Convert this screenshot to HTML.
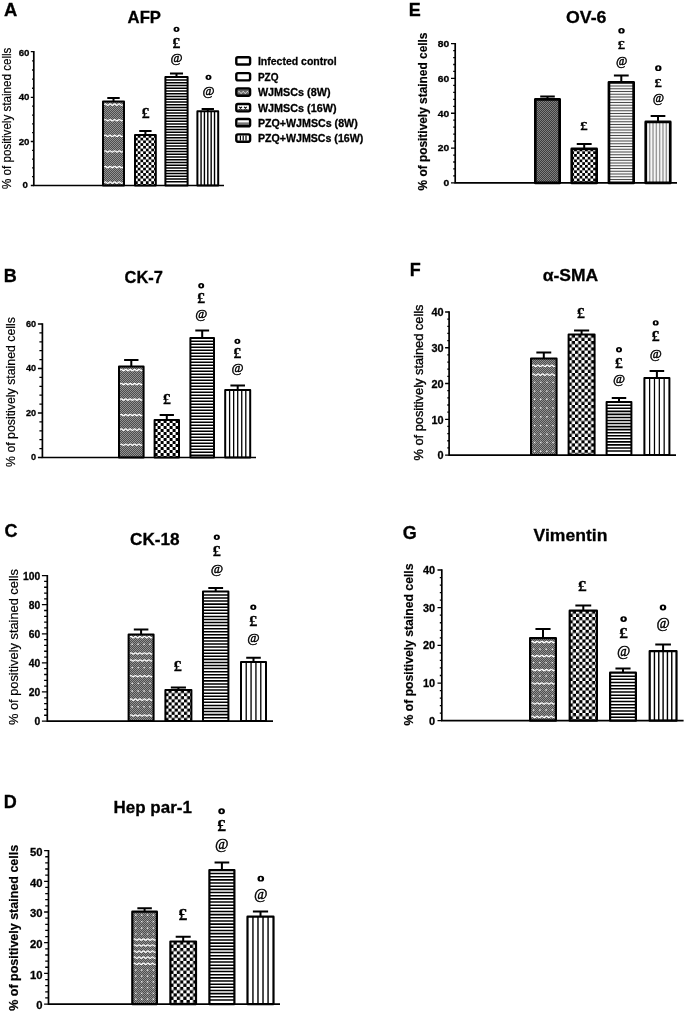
<!DOCTYPE html>
<html><head><meta charset="utf-8"><title>figure</title>
<style>
html,body{margin:0;padding:0;background:#fff;}
body{width:685px;height:1011px;overflow:hidden;font-family:"Liberation Sans", sans-serif;}
svg{display:block;}
text{font-family:"Liberation Sans", sans-serif;fill:#000;stroke:#000;stroke-width:0.3px;}
.b{font-weight:bold;}
.s{font-family:"Liberation Serif",serif;font-weight:bold;}
.i{font-family:"Liberation Serif",serif;font-style:italic;}
</style></head><body>
<svg width="685" height="1011" viewBox="0 0 685 1011">
<defs>
<filter id="soft" x="0" y="0" width="100%" height="100%" filterUnits="userSpaceOnUse"><feGaussianBlur stdDeviation="0.38"/></filter>
<pattern id="Ap2" patternUnits="userSpaceOnUse" x="135" y="135" width="5.44" height="5.44"><rect width="5.44" height="5.44" fill="#000"/><rect width="2.72" height="2.72" fill="#fff"/><rect x="2.72" y="2.72" width="2.72" height="2.72" fill="#fff"/></pattern><pattern id="Ap3" patternUnits="userSpaceOnUse" x="165.4" y="77" width="8" height="2.75"><rect width="8" height="2.75" fill="#fff"/><rect width="8" height="1.43" fill="#000"/></pattern><pattern id="Ap4" patternUnits="userSpaceOnUse" x="197.4" y="111.3" width="3.3" height="8"><rect width="3.3" height="8" fill="#fff"/><rect x="1.9" width="1.4" height="8" fill="#000"/></pattern><pattern id="Ap1" patternUnits="userSpaceOnUse" width="2" height="2"><rect width="2" height="2" fill="#4e4e4e"/><rect width="1" height="1" fill="#929292"/><rect x="1" y="1" width="1" height="1" fill="#929292"/></pattern>
<pattern id="Bp2" patternUnits="userSpaceOnUse" x="154.6" y="420" width="6" height="6"><rect width="6" height="6" fill="#000"/><rect width="3" height="3" fill="#fff"/><rect x="3" y="3" width="3" height="3" fill="#fff"/></pattern><pattern id="Bp3" patternUnits="userSpaceOnUse" x="190.4" y="338" width="8" height="3"><rect width="8" height="3" fill="#fff"/><rect width="8" height="1.5" fill="#000"/></pattern><pattern id="Bp4" patternUnits="userSpaceOnUse" x="225.2" y="390" width="4" height="8"><rect width="4" height="8" fill="#fff"/><rect x="2.7" width="1.3" height="8" fill="#000"/></pattern><pattern id="Bp1" patternUnits="userSpaceOnUse" width="2" height="2"><rect width="2" height="2" fill="#4e4e4e"/><rect width="1" height="1" fill="#929292"/><rect x="1" y="1" width="1" height="1" fill="#929292"/></pattern>
<pattern id="Cp2" patternUnits="userSpaceOnUse" x="165.4" y="690" width="6.2" height="6.2"><rect width="6.2" height="6.2" fill="#000"/><rect width="3.1" height="3.1" fill="#fff"/><rect x="3.1" y="3.1" width="3.1" height="3.1" fill="#fff"/></pattern><pattern id="Cp3" patternUnits="userSpaceOnUse" x="203" y="591.6" width="8" height="3.07"><rect width="8" height="3.07" fill="#fff"/><rect width="8" height="1.53" fill="#000"/></pattern><pattern id="Cp4" patternUnits="userSpaceOnUse" x="241" y="662" width="4.26" height="8"><rect width="4.26" height="8" fill="#fff"/><rect x="2.96" width="1.3" height="8" fill="#000"/></pattern><pattern id="Cp1" patternUnits="userSpaceOnUse" width="2" height="2"><rect width="2" height="2" fill="#4e4e4e"/><rect width="1" height="1" fill="#929292"/><rect x="1" y="1" width="1" height="1" fill="#929292"/></pattern>
<pattern id="Dp2" patternUnits="userSpaceOnUse" x="170.3" y="941.4" width="6.5" height="6.5"><rect width="6.5" height="6.5" fill="#000"/><rect width="3.25" height="3.25" fill="#fff"/><rect x="3.25" y="3.25" width="3.25" height="3.25" fill="#fff"/></pattern><pattern id="Dp3" patternUnits="userSpaceOnUse" x="209.3" y="870" width="8" height="3.16"><rect width="8" height="3.16" fill="#fff"/><rect width="8" height="1.58" fill="#000"/></pattern><pattern id="Dp4" patternUnits="userSpaceOnUse" x="247.4" y="916.6" width="4.4" height="8"><rect width="4.4" height="8" fill="#fff"/><rect x="3" width="1.4" height="8" fill="#000"/></pattern><pattern id="Dp1" patternUnits="userSpaceOnUse" width="2" height="2"><rect width="2" height="2" fill="#4e4e4e"/><rect width="1" height="1" fill="#929292"/><rect x="1" y="1" width="1" height="1" fill="#929292"/></pattern>
<pattern id="Ep2" patternUnits="userSpaceOnUse" x="571.4" y="148.6" width="5.44" height="5.44"><rect width="5.44" height="5.44" fill="#000"/><rect width="2.72" height="2.72" fill="#fff"/><rect x="2.72" y="2.72" width="2.72" height="2.72" fill="#fff"/></pattern><pattern id="Ep3" patternUnits="userSpaceOnUse" x="608.6" y="82" width="8" height="2.75"><rect width="8" height="2.75" fill="#f6f6f6"/><rect width="8" height="0.88" fill="#333"/></pattern><pattern id="Ep4" patternUnits="userSpaceOnUse" x="645.4" y="121.6" width="3.3" height="8"><rect width="3.3" height="8" fill="#f6f6f6"/><rect x="1.9" width="1.4" height="8" fill="#999"/></pattern><pattern id="Ep1" patternUnits="userSpaceOnUse" width="2" height="2"><rect width="2" height="2" fill="#3c3c3c"/><rect width="1" height="1" fill="#808080"/><rect x="1" y="1" width="1" height="1" fill="#808080"/></pattern>
<pattern id="Fp2" patternUnits="userSpaceOnUse" x="568.6" y="334.6" width="6.4" height="6.4"><rect width="6.4" height="6.4" fill="#000"/><rect width="3.2" height="3.2" fill="#fff"/><rect x="3.2" y="3.2" width="3.2" height="3.2" fill="#fff"/></pattern><pattern id="Fp3" patternUnits="userSpaceOnUse" x="606.6" y="402" width="8" height="3.05"><rect width="8" height="3.05" fill="#fff"/><rect width="8" height="1.59" fill="#000"/></pattern><pattern id="Fp4" patternUnits="userSpaceOnUse" x="644.4" y="378" width="4.2" height="8"><rect width="4.2" height="8" fill="#fff"/><rect x="3.05" width="1.15" height="8" fill="#000"/></pattern><pattern id="Fp1" patternUnits="userSpaceOnUse" width="2" height="2"><rect width="2" height="2" fill="#4e4e4e"/><rect width="1" height="1" fill="#929292"/><rect x="1" y="1" width="1" height="1" fill="#929292"/></pattern>
<pattern id="Gp2" patternUnits="userSpaceOnUse" x="569.6" y="610.6" width="6.4" height="6.4"><rect width="6.4" height="6.4" fill="#000"/><rect width="3.2" height="3.2" fill="#fff"/><rect x="3.2" y="3.2" width="3.2" height="3.2" fill="#fff"/></pattern><pattern id="Gp3" patternUnits="userSpaceOnUse" x="610" y="672.6" width="8" height="3.16"><rect width="8" height="3.16" fill="#fff"/><rect width="8" height="1.52" fill="#000"/></pattern><pattern id="Gp4" patternUnits="userSpaceOnUse" x="649.6" y="651" width="4.4" height="8"><rect width="4.4" height="8" fill="#fff"/><rect x="3" width="1.4" height="8" fill="#000"/></pattern><pattern id="Gp1" patternUnits="userSpaceOnUse" width="2" height="2"><rect width="2" height="2" fill="#4e4e4e"/><rect width="1" height="1" fill="#929292"/><rect x="1" y="1" width="1" height="1" fill="#929292"/></pattern>
</defs>
<rect width="685" height="1011" fill="#fff"/>
<g filter="url(#soft)">
<g id="panelA">
<text class="b" x="4" y="15.6" font-size="18.4">A</text>
<text class="b" x="144.3" y="23" font-size="16.5" text-anchor="middle" textLength="33.4" lengthAdjust="spacingAndGlyphs">AFP</text>
<text transform="translate(11.3 118.3) rotate(-90)" font-size="12.4" font-weight="normal" text-anchor="middle" textLength="141.4" lengthAdjust="spacingAndGlyphs" style="stroke-width:0.2px">% of positively stained cells</text>
<path d="M113.5 101.4V98M107.29 98H119.71" stroke="#000" stroke-width="2" fill="none"/>
<rect x="103" y="101.4" width="21" height="84.1" fill="url(#Ap1)"/>
<path d="M104.2 104.6q1.16 -1.3 2.32 0q1.16 1.3 2.32 0q1.16 -1.3 2.32 0q1.16 1.3 2.32 0q1.16 -1.3 2.32 0q1.16 1.3 2.32 0q1.16 -1.3 2.32 0q1.16 1.3 2.32 0M104.2 120.2q1.16 -1.3 2.32 0q1.16 1.3 2.32 0q1.16 -1.3 2.32 0q1.16 1.3 2.32 0q1.16 -1.3 2.32 0q1.16 1.3 2.32 0q1.16 -1.3 2.32 0q1.16 1.3 2.32 0M104.2 135.8q1.16 -1.3 2.32 0q1.16 1.3 2.32 0q1.16 -1.3 2.32 0q1.16 1.3 2.32 0q1.16 -1.3 2.32 0q1.16 1.3 2.32 0q1.16 -1.3 2.32 0q1.16 1.3 2.32 0M104.2 151.4q1.16 -1.3 2.32 0q1.16 1.3 2.32 0q1.16 -1.3 2.32 0q1.16 1.3 2.32 0q1.16 -1.3 2.32 0q1.16 1.3 2.32 0q1.16 -1.3 2.32 0q1.16 1.3 2.32 0M104.2 167q1.16 -1.3 2.32 0q1.16 1.3 2.32 0q1.16 -1.3 2.32 0q1.16 1.3 2.32 0q1.16 -1.3 2.32 0q1.16 1.3 2.32 0q1.16 -1.3 2.32 0q1.16 1.3 2.32 0M104.2 182.6q1.16 -1.3 2.32 0q1.16 1.3 2.32 0q1.16 -1.3 2.32 0q1.16 1.3 2.32 0q1.16 -1.3 2.32 0q1.16 1.3 2.32 0q1.16 -1.3 2.32 0q1.16 1.3 2.32 0" stroke="#fff" stroke-width="1.25" fill="none"/>
<rect x="103" y="101.4" width="21" height="84.1" fill="none" stroke="#000" stroke-width="2" stroke-linejoin="round"/>
<path d="M145.4 135V131M139.24 131H151.56" stroke="#000" stroke-width="2" fill="none"/>
<rect x="135" y="135" width="20.8" height="50.5" fill="url(#Ap2)" stroke="#000" stroke-width="2" stroke-linejoin="round"/>
<path d="M176.5 77V73.4M169.97 73.4H183.03" stroke="#000" stroke-width="2" fill="none"/>
<rect x="165.4" y="77" width="22.2" height="108.5" fill="#fff"/>
<path d="M165.4 80.03H187.6M165.4 82.78H187.6M165.4 85.53H187.6M165.4 88.28H187.6M165.4 91.03H187.6M165.4 93.78H187.6M165.4 96.53H187.6M165.4 99.28H187.6M165.4 102.03H187.6M165.4 104.78H187.6M165.4 107.53H187.6M165.4 110.28H187.6M165.4 113.03H187.6M165.4 115.78H187.6M165.4 118.53H187.6M165.4 121.28H187.6M165.4 124.03H187.6M165.4 126.78H187.6M165.4 129.53H187.6M165.4 132.28H187.6M165.4 135.03H187.6M165.4 137.78H187.6M165.4 140.53H187.6M165.4 143.28H187.6M165.4 146.03H187.6M165.4 148.78H187.6M165.4 151.53H187.6M165.4 154.28H187.6M165.4 157.03H187.6M165.4 159.78H187.6M165.4 162.53H187.6M165.4 165.28H187.6M165.4 168.03H187.6M165.4 170.78H187.6M165.4 173.53H187.6M165.4 176.28H187.6M165.4 179.03H187.6M165.4 181.78H187.6" stroke="#000" stroke-width="1.43" fill="none"/>
<rect x="165.4" y="77" width="22.2" height="108.5" fill="none" stroke="#000" stroke-width="2" stroke-linejoin="round"/>
<path d="M207.8 111.3V109M201.64 109H213.96" stroke="#000" stroke-width="2" fill="none"/>
<rect x="197.4" y="111.3" width="20.8" height="74.2" fill="#fff"/>
<path d="M201.07 111.3V185.5M204.43 111.3V185.5M207.8 111.3V185.5M211.17 111.3V185.5M214.53 111.3V185.5" stroke="#000" stroke-width="1.4" fill="none"/>
<rect x="197.4" y="111.3" width="20.8" height="74.2" fill="none" stroke="#000" stroke-width="2" stroke-linejoin="round"/>
<path d="M33.8 51.05V185.5H224" stroke="#000" stroke-width="1.7" fill="none"/>
<text transform="translate(27.9 188.27) scale(1 1)" font-size="9.7" font-weight="bold" text-anchor="end">0</text>
<text transform="translate(29.5 145.47) scale(1 1)" font-size="9.7" font-weight="bold" text-anchor="end">20</text>
<text transform="translate(29.5 100.47) scale(1 1)" font-size="9.7" font-weight="bold" text-anchor="end">40</text>
<text transform="translate(29.5 56.17) scale(1 1)" font-size="9.7" font-weight="bold" text-anchor="end">60</text>
<path d="M33.8 185.5H30.8M33.8 176.7H32.1M33.8 167.9H32.1M33.8 159.1H32.1M33.8 150.3H32.1M33.8 141.5H30.8M33.8 132.68H32.1M33.8 123.86H32.1M33.8 115.04H32.1M33.8 106.22H32.1M33.8 97.4H30.8M33.8 88.26H32.1M33.8 79.12H32.1M33.8 69.98H32.1M33.8 60.84H32.1M33.8 51.7H30.8" stroke="#000" stroke-width="1.3" fill="none"/>
<text class="s" transform="translate(145.6 118.4) scale(1.12 1)" font-size="14" text-anchor="middle">£</text>
<path fill-rule="evenodd" d="M173.5 29.35a3 2.65 0 1 0 6 0a3 2.65 0 1 0 -6 0zM175.55 29.35a0.95 1.35 0 1 0 1.9 0a0.95 1.35 0 1 0 -1.9 0z"/>
<text class="s" transform="translate(176.5 47.6) scale(1.12 1)" font-size="14" text-anchor="middle">£</text>
<text class="i" x="176.5" y="62" font-size="13" text-anchor="middle" style="stroke-width:0.45px">@</text>
<path fill-rule="evenodd" d="M205.5 77.35a3 2.65 0 1 0 6 0a3 2.65 0 1 0 -6 0zM207.55 77.35a0.95 1.35 0 1 0 1.9 0a0.95 1.35 0 1 0 -1.9 0z"/>
<text class="i" x="208.5" y="94.5" font-size="13" text-anchor="middle" style="stroke-width:0.45px">@</text>
</g>
<g id="panelB">
<text class="b" x="3.7" y="281.6" font-size="18">B</text>
<text class="b" x="143.8" y="283" font-size="16.5" text-anchor="middle" textLength="38.4" lengthAdjust="spacingAndGlyphs">CK-7</text>
<text transform="translate(15 392) rotate(-90)" font-size="12" font-weight="normal" text-anchor="middle" textLength="150" lengthAdjust="spacingAndGlyphs" style="stroke-width:0.2px">% of positively stained cells</text>
<path d="M131.3 366.6V360M124.12 360H138.48" stroke="#000" stroke-width="2" fill="none"/>
<rect x="119" y="366.6" width="24.6" height="90.9" fill="url(#Bp1)"/>
<path d="M120.2 370q1.11 -1.3 2.22 0q1.11 1.3 2.22 0q1.11 -1.3 2.22 0q1.11 1.3 2.22 0q1.11 -1.3 2.22 0q1.11 1.3 2.22 0q1.11 -1.3 2.22 0q1.11 1.3 2.22 0q1.11 -1.3 2.22 0q1.11 1.3 2.22 0M120.2 384q1.11 -1.3 2.22 0q1.11 1.3 2.22 0q1.11 -1.3 2.22 0q1.11 1.3 2.22 0q1.11 -1.3 2.22 0q1.11 1.3 2.22 0q1.11 -1.3 2.22 0q1.11 1.3 2.22 0q1.11 -1.3 2.22 0q1.11 1.3 2.22 0M120.2 399.5q1.11 -1.3 2.22 0q1.11 1.3 2.22 0q1.11 -1.3 2.22 0q1.11 1.3 2.22 0q1.11 -1.3 2.22 0q1.11 1.3 2.22 0q1.11 -1.3 2.22 0q1.11 1.3 2.22 0q1.11 -1.3 2.22 0q1.11 1.3 2.22 0M120.2 415q1.11 -1.3 2.22 0q1.11 1.3 2.22 0q1.11 -1.3 2.22 0q1.11 1.3 2.22 0q1.11 -1.3 2.22 0q1.11 1.3 2.22 0q1.11 -1.3 2.22 0q1.11 1.3 2.22 0q1.11 -1.3 2.22 0q1.11 1.3 2.22 0M120.2 429.6q1.11 -1.3 2.22 0q1.11 1.3 2.22 0q1.11 -1.3 2.22 0q1.11 1.3 2.22 0q1.11 -1.3 2.22 0q1.11 1.3 2.22 0q1.11 -1.3 2.22 0q1.11 1.3 2.22 0q1.11 -1.3 2.22 0q1.11 1.3 2.22 0M120.2 444.7q1.11 -1.3 2.22 0q1.11 1.3 2.22 0q1.11 -1.3 2.22 0q1.11 1.3 2.22 0q1.11 -1.3 2.22 0q1.11 1.3 2.22 0q1.11 -1.3 2.22 0q1.11 1.3 2.22 0q1.11 -1.3 2.22 0q1.11 1.3 2.22 0" stroke="#fff" stroke-width="1.25" fill="none"/>
<rect x="119" y="366.6" width="24.6" height="90.9" fill="none" stroke="#000" stroke-width="2" stroke-linejoin="round"/>
<path d="M166.8 420V415M159.67 415H173.93" stroke="#000" stroke-width="2" fill="none"/>
<rect x="154.6" y="420" width="24.4" height="37.5" fill="url(#Bp2)" stroke="#000" stroke-width="2" stroke-linejoin="round"/>
<path d="M202.2 338V330.4M195.29 330.4H209.11" stroke="#000" stroke-width="2" fill="none"/>
<rect x="190.4" y="338" width="23.6" height="119.5" fill="#fff"/>
<path d="M190.4 341.25H214M190.4 344.25H214M190.4 347.25H214M190.4 350.25H214M190.4 353.25H214M190.4 356.25H214M190.4 359.25H214M190.4 362.25H214M190.4 365.25H214M190.4 368.25H214M190.4 371.25H214M190.4 374.25H214M190.4 377.25H214M190.4 380.25H214M190.4 383.25H214M190.4 386.25H214M190.4 389.25H214M190.4 392.25H214M190.4 395.25H214M190.4 398.25H214M190.4 401.25H214M190.4 404.25H214M190.4 407.25H214M190.4 410.25H214M190.4 413.25H214M190.4 416.25H214M190.4 419.25H214M190.4 422.25H214M190.4 425.25H214M190.4 428.25H214M190.4 431.25H214M190.4 434.25H214M190.4 437.25H214M190.4 440.25H214M190.4 443.25H214M190.4 446.25H214M190.4 449.25H214M190.4 452.25H214M190.4 455.25H214" stroke="#000" stroke-width="1.5" fill="none"/>
<rect x="190.4" y="338" width="23.6" height="119.5" fill="none" stroke="#000" stroke-width="2" stroke-linejoin="round"/>
<path d="M237.7 390V385.6M230.41 385.6H244.99" stroke="#000" stroke-width="2" fill="none"/>
<rect x="225.2" y="390" width="25" height="67.5" fill="#fff"/>
<path d="M229.6 390V457.5M233.65 390V457.5M237.7 390V457.5M241.75 390V457.5M245.8 390V457.5" stroke="#000" stroke-width="1.3" fill="none"/>
<rect x="225.2" y="390" width="25" height="67.5" fill="none" stroke="#000" stroke-width="2" stroke-linejoin="round"/>
<path d="M42.4 323.35V457.5H256" stroke="#000" stroke-width="1.7" fill="none"/>
<text transform="translate(36 460.46) scale(1 1)" font-size="9.1" font-weight="bold" text-anchor="end">0</text>
<text transform="translate(36 415.96) scale(1 1)" font-size="9.1" font-weight="bold" text-anchor="end">20</text>
<text transform="translate(36 371.46) scale(1 1)" font-size="9.1" font-weight="bold" text-anchor="end">40</text>
<text transform="translate(36 326.96) scale(1 1)" font-size="9.1" font-weight="bold" text-anchor="end">60</text>
<path d="M42.4 457.5H37.9M42.4 448.6H39.4M42.4 439.7H39.4M42.4 430.8H39.4M42.4 421.9H39.4M42.4 413H37.9M42.4 404.1H39.4M42.4 395.2H39.4M42.4 386.3H39.4M42.4 377.4H39.4M42.4 368.5H37.9M42.4 359.6H39.4M42.4 350.7H39.4M42.4 341.8H39.4M42.4 332.9H39.4M42.4 324H37.9" stroke="#000" stroke-width="1.3" fill="none"/>
<text class="s" transform="translate(166.8 403.6) scale(1.12 1)" font-size="14" text-anchor="middle">£</text>
<path fill-rule="evenodd" d="M198.2 285.75a3 2.65 0 1 0 6 0a3 2.65 0 1 0 -6 0zM200.25 285.75a0.95 1.35 0 1 0 1.9 0a0.95 1.35 0 1 0 -1.9 0z"/>
<text class="s" transform="translate(201.2 303.2) scale(1.12 1)" font-size="14" text-anchor="middle">£</text>
<text class="i" x="201.2" y="318" font-size="13" text-anchor="middle" style="stroke-width:0.45px">@</text>
<path fill-rule="evenodd" d="M234.4 341.35a3 2.65 0 1 0 6 0a3 2.65 0 1 0 -6 0zM236.45 341.35a0.95 1.35 0 1 0 1.9 0a0.95 1.35 0 1 0 -1.9 0z"/>
<text class="s" transform="translate(237.4 358) scale(1.12 1)" font-size="14" text-anchor="middle">£</text>
<text class="i" x="237.4" y="372" font-size="13" text-anchor="middle" style="stroke-width:0.45px">@</text>
</g>
<g id="panelC">
<text class="b" x="4.5" y="537.4" font-size="18">C</text>
<text class="b" x="154.8" y="545" font-size="17" text-anchor="middle" textLength="49.6" lengthAdjust="spacingAndGlyphs">CK-18</text>
<text transform="translate(18.4 647) rotate(-90)" font-size="12.3" font-weight="normal" text-anchor="middle" textLength="156" lengthAdjust="spacingAndGlyphs" style="stroke-width:0.2px">% of positively stained cells</text>
<path d="M141.1 634.4V629.4M133.81 629.4H148.39" stroke="#000" stroke-width="2" fill="none"/>
<rect x="128.6" y="634.4" width="25" height="86.65" fill="url(#Cp1)"/>
<path d="M129.8 637.1q1.13 -1.3 2.26 0q1.13 1.3 2.26 0q1.13 -1.3 2.26 0q1.13 1.3 2.26 0q1.13 -1.3 2.26 0q1.13 1.3 2.26 0q1.13 -1.3 2.26 0q1.13 1.3 2.26 0q1.13 -1.3 2.26 0q1.13 1.3 2.26 0M129.8 653.4q1.13 -1.3 2.26 0q1.13 1.3 2.26 0q1.13 -1.3 2.26 0q1.13 1.3 2.26 0q1.13 -1.3 2.26 0q1.13 1.3 2.26 0q1.13 -1.3 2.26 0q1.13 1.3 2.26 0q1.13 -1.3 2.26 0q1.13 1.3 2.26 0M129.8 660.4q1.13 -1.3 2.26 0q1.13 1.3 2.26 0q1.13 -1.3 2.26 0q1.13 1.3 2.26 0q1.13 -1.3 2.26 0q1.13 1.3 2.26 0q1.13 -1.3 2.26 0q1.13 1.3 2.26 0q1.13 -1.3 2.26 0q1.13 1.3 2.26 0M129.8 676.2q1.13 -1.3 2.26 0q1.13 1.3 2.26 0q1.13 -1.3 2.26 0q1.13 1.3 2.26 0q1.13 -1.3 2.26 0q1.13 1.3 2.26 0q1.13 -1.3 2.26 0q1.13 1.3 2.26 0q1.13 -1.3 2.26 0q1.13 1.3 2.26 0M129.8 699.6q1.13 -1.3 2.26 0q1.13 1.3 2.26 0q1.13 -1.3 2.26 0q1.13 1.3 2.26 0q1.13 -1.3 2.26 0q1.13 1.3 2.26 0q1.13 -1.3 2.26 0q1.13 1.3 2.26 0q1.13 -1.3 2.26 0q1.13 1.3 2.26 0M129.8 715.4q1.13 -1.3 2.26 0q1.13 1.3 2.26 0q1.13 -1.3 2.26 0q1.13 1.3 2.26 0q1.13 -1.3 2.26 0q1.13 1.3 2.26 0q1.13 -1.3 2.26 0q1.13 1.3 2.26 0q1.13 -1.3 2.26 0q1.13 1.3 2.26 0" stroke="#fff" stroke-width="1.25" fill="none"/>
<path d="M131.5 643.6h1.4v1.4h-1.4zM137.43 643.6h1.4v1.4h-1.4zM143.37 643.6h1.4v1.4h-1.4zM149.3 643.6h1.4v1.4h-1.4zM131.5 666.9h1.4v1.4h-1.4zM137.43 666.9h1.4v1.4h-1.4zM143.37 666.9h1.4v1.4h-1.4zM149.3 666.9h1.4v1.4h-1.4zM131.5 682.7h1.4v1.4h-1.4zM137.43 682.7h1.4v1.4h-1.4zM143.37 682.7h1.4v1.4h-1.4zM149.3 682.7h1.4v1.4h-1.4zM131.5 690.3h1.4v1.4h-1.4zM137.43 690.3h1.4v1.4h-1.4zM143.37 690.3h1.4v1.4h-1.4zM149.3 690.3h1.4v1.4h-1.4zM131.5 706.1h1.4v1.4h-1.4zM137.43 706.1h1.4v1.4h-1.4zM143.37 706.1h1.4v1.4h-1.4zM149.3 706.1h1.4v1.4h-1.4z" fill="#e8e8e8"/>
<rect x="128.6" y="634.4" width="25" height="86.65" fill="none" stroke="#000" stroke-width="2" stroke-linejoin="round"/>
<path d="M178.4 690V687.4M170.84 687.4H185.96" stroke="#000" stroke-width="2" fill="none"/>
<rect x="165.4" y="690" width="26" height="31.05" fill="url(#Cp2)" stroke="#000" stroke-width="2" stroke-linejoin="round"/>
<path d="M215.7 591.6V588M208.3 588H223.1" stroke="#000" stroke-width="2" fill="none"/>
<rect x="203" y="591.6" width="25.4" height="129.45" fill="#fff"/>
<path d="M203 594.9H228.4M203 597.97H228.4M203 601.04H228.4M203 604.11H228.4M203 607.18H228.4M203 610.25H228.4M203 613.32H228.4M203 616.39H228.4M203 619.46H228.4M203 622.53H228.4M203 625.6H228.4M203 628.67H228.4M203 631.74H228.4M203 634.81H228.4M203 637.88H228.4M203 640.95H228.4M203 644.02H228.4M203 647.09H228.4M203 650.16H228.4M203 653.23H228.4M203 656.3H228.4M203 659.37H228.4M203 662.44H228.4M203 665.51H228.4M203 668.58H228.4M203 671.65H228.4M203 674.72H228.4M203 677.79H228.4M203 680.86H228.4M203 683.93H228.4M203 687H228.4M203 690.07H228.4M203 693.14H228.4M203 696.21H228.4M203 699.28H228.4M203 702.35H228.4M203 705.42H228.4M203 708.49H228.4M203 711.56H228.4M203 714.63H228.4M203 717.7H228.4" stroke="#000" stroke-width="1.53" fill="none"/>
<rect x="203" y="591.6" width="25.4" height="129.45" fill="none" stroke="#000" stroke-width="2" stroke-linejoin="round"/>
<path d="M253.5 662V657.8M246.21 657.8H260.79" stroke="#000" stroke-width="2" fill="none"/>
<rect x="241" y="662" width="25" height="59.05" fill="#fff"/>
<path d="M246.21 662V721.05M251.07 662V721.05M255.93 662V721.05M260.79 662V721.05" stroke="#000" stroke-width="1.3" fill="none"/>
<rect x="241" y="662" width="25" height="59.05" fill="none" stroke="#000" stroke-width="2" stroke-linejoin="round"/>
<path d="M47.3 574.95V721.05H273" stroke="#000" stroke-width="1.7" fill="none"/>
<text transform="translate(40.2 725.04) scale(1 1)" font-size="10.3" font-weight="bold" text-anchor="end">0</text>
<text transform="translate(40.2 695.95) scale(1 1)" font-size="10.3" font-weight="bold" text-anchor="end">20</text>
<text transform="translate(40.2 666.86) scale(1 1)" font-size="10.3" font-weight="bold" text-anchor="end">40</text>
<text transform="translate(40.2 637.77) scale(1 1)" font-size="10.3" font-weight="bold" text-anchor="end">60</text>
<text transform="translate(40.2 608.68) scale(1 1)" font-size="10.3" font-weight="bold" text-anchor="end">80</text>
<text transform="translate(40.2 579.59) scale(1 1)" font-size="10.3" font-weight="bold" text-anchor="end">100</text>
<path d="M47.3 721.05H41.9M47.3 715.23H44.1M47.3 709.41H44.1M47.3 703.6H44.1M47.3 697.78H44.1M47.3 691.96H41.9M47.3 686.14H44.1M47.3 680.32H44.1M47.3 674.51H44.1M47.3 668.69H44.1M47.3 662.87H41.9M47.3 657.05H44.1M47.3 651.23H44.1M47.3 645.42H44.1M47.3 639.6H44.1M47.3 633.78H41.9M47.3 627.96H44.1M47.3 622.14H44.1M47.3 616.33H44.1M47.3 610.51H44.1M47.3 604.69H41.9M47.3 598.87H44.1M47.3 593.05H44.1M47.3 587.24H44.1M47.3 581.42H44.1M47.3 575.6H41.9" stroke="#000" stroke-width="1.3" fill="none"/>
<text class="s" transform="translate(177.8 671) scale(1.12 1)" font-size="14.42" text-anchor="middle">£</text>
<path fill-rule="evenodd" d="M213.71 537.27a3.09 2.73 0 1 0 6.18 0a3.09 2.73 0 1 0 -6.18 0zM215.82 537.27a0.98 1.39 0 1 0 1.96 0a0.98 1.39 0 1 0 -1.96 0z"/>
<text class="s" transform="translate(216.8 556) scale(1.12 1)" font-size="14.42" text-anchor="middle">£</text>
<text class="i" x="216.8" y="572.5" font-size="13.39" text-anchor="middle" style="stroke-width:0.45px">@</text>
<path fill-rule="evenodd" d="M250.21 607.27a3.09 2.73 0 1 0 6.18 0a3.09 2.73 0 1 0 -6.18 0zM252.32 607.27a0.98 1.39 0 1 0 1.96 0a0.98 1.39 0 1 0 -1.96 0z"/>
<text class="s" transform="translate(253.3 626) scale(1.12 1)" font-size="14.42" text-anchor="middle">£</text>
<text class="i" x="253.3" y="641.7" font-size="13.39" text-anchor="middle" style="stroke-width:0.45px">@</text>
</g>
<g id="panelD">
<text class="b" x="3.7" y="808" font-size="18">D</text>
<text class="b" x="152.7" y="812.5" font-size="17" text-anchor="middle" textLength="78.3" lengthAdjust="spacingAndGlyphs">Hep par-1</text>
<text transform="translate(18 927.8) rotate(-90)" font-size="12.5" font-weight="bold" text-anchor="middle" textLength="166" lengthAdjust="spacingAndGlyphs" style="stroke-width:0.2px">% of positively stained cells</text>
<path d="M144.6 911.6V908.2M137.36 908.2H151.84" stroke="#000" stroke-width="2" fill="none"/>
<rect x="132.2" y="911.6" width="24.8" height="92.5" fill="url(#Dp1)"/>
<path d="M133.4 939.5q1.12 -1.3 2.24 0q1.12 1.3 2.24 0q1.12 -1.3 2.24 0q1.12 1.3 2.24 0q1.12 -1.3 2.24 0q1.12 1.3 2.24 0q1.12 -1.3 2.24 0q1.12 1.3 2.24 0q1.12 -1.3 2.24 0q1.12 1.3 2.24 0M133.4 945.4q1.12 -1.3 2.24 0q1.12 1.3 2.24 0q1.12 -1.3 2.24 0q1.12 1.3 2.24 0q1.12 -1.3 2.24 0q1.12 1.3 2.24 0q1.12 -1.3 2.24 0q1.12 1.3 2.24 0q1.12 -1.3 2.24 0q1.12 1.3 2.24 0M133.4 951.6q1.12 -1.3 2.24 0q1.12 1.3 2.24 0q1.12 -1.3 2.24 0q1.12 1.3 2.24 0q1.12 -1.3 2.24 0q1.12 1.3 2.24 0q1.12 -1.3 2.24 0q1.12 1.3 2.24 0q1.12 -1.3 2.24 0q1.12 1.3 2.24 0M133.4 957.6q1.12 -1.3 2.24 0q1.12 1.3 2.24 0q1.12 -1.3 2.24 0q1.12 1.3 2.24 0q1.12 -1.3 2.24 0q1.12 1.3 2.24 0q1.12 -1.3 2.24 0q1.12 1.3 2.24 0q1.12 -1.3 2.24 0q1.12 1.3 2.24 0M133.4 963.8q1.12 -1.3 2.24 0q1.12 1.3 2.24 0q1.12 -1.3 2.24 0q1.12 1.3 2.24 0q1.12 -1.3 2.24 0q1.12 1.3 2.24 0q1.12 -1.3 2.24 0q1.12 1.3 2.24 0q1.12 -1.3 2.24 0q1.12 1.3 2.24 0" stroke="#fff" stroke-width="1.25" fill="none"/>
<path d="M135.1 914.5h1.4v1.4h-1.4zM140.97 914.5h1.4v1.4h-1.4zM146.83 914.5h1.4v1.4h-1.4zM152.7 914.5h1.4v1.4h-1.4zM135.1 920.9h1.4v1.4h-1.4zM140.97 920.9h1.4v1.4h-1.4zM146.83 920.9h1.4v1.4h-1.4zM152.7 920.9h1.4v1.4h-1.4zM135.1 927.3h1.4v1.4h-1.4zM140.97 927.3h1.4v1.4h-1.4zM146.83 927.3h1.4v1.4h-1.4zM152.7 927.3h1.4v1.4h-1.4zM135.1 933.2h1.4v1.4h-1.4zM140.97 933.2h1.4v1.4h-1.4zM146.83 933.2h1.4v1.4h-1.4zM152.7 933.2h1.4v1.4h-1.4zM135.1 969.3h1.4v1.4h-1.4zM140.97 969.3h1.4v1.4h-1.4zM146.83 969.3h1.4v1.4h-1.4zM152.7 969.3h1.4v1.4h-1.4zM135.1 975.3h1.4v1.4h-1.4zM140.97 975.3h1.4v1.4h-1.4zM146.83 975.3h1.4v1.4h-1.4zM152.7 975.3h1.4v1.4h-1.4zM135.1 981.1h1.4v1.4h-1.4zM140.97 981.1h1.4v1.4h-1.4zM146.83 981.1h1.4v1.4h-1.4zM152.7 981.1h1.4v1.4h-1.4zM135.1 986.9h1.4v1.4h-1.4zM140.97 986.9h1.4v1.4h-1.4zM146.83 986.9h1.4v1.4h-1.4zM152.7 986.9h1.4v1.4h-1.4zM135.1 992.7h1.4v1.4h-1.4zM140.97 992.7h1.4v1.4h-1.4zM146.83 992.7h1.4v1.4h-1.4zM152.7 992.7h1.4v1.4h-1.4zM135.1 998.6h1.4v1.4h-1.4zM140.97 998.6h1.4v1.4h-1.4zM146.83 998.6h1.4v1.4h-1.4zM152.7 998.6h1.4v1.4h-1.4z" fill="#e8e8e8"/>
<rect x="132.3" y="911.7" width="24.6" height="92.4" fill="none" stroke="#000" stroke-width="2.2" stroke-linejoin="round"/>
<path d="M183.2 941.4V936.8M175.69 936.8H190.71" stroke="#000" stroke-width="2" fill="none"/>
<rect x="170.4" y="941.5" width="25.6" height="62.6" fill="url(#Dp2)" stroke="#000" stroke-width="2.2" stroke-linejoin="round"/>
<path d="M221.9 870V862.6M214.56 862.6H229.24" stroke="#000" stroke-width="2" fill="none"/>
<rect x="209.3" y="870" width="25.2" height="134.1" fill="#fff"/>
<path d="M209.3 873.57H234.5M209.3 876.73H234.5M209.3 879.89H234.5M209.3 883.05H234.5M209.3 886.21H234.5M209.3 889.37H234.5M209.3 892.53H234.5M209.3 895.69H234.5M209.3 898.85H234.5M209.3 902.01H234.5M209.3 905.17H234.5M209.3 908.33H234.5M209.3 911.49H234.5M209.3 914.65H234.5M209.3 917.81H234.5M209.3 920.97H234.5M209.3 924.13H234.5M209.3 927.29H234.5M209.3 930.45H234.5M209.3 933.61H234.5M209.3 936.77H234.5M209.3 939.93H234.5M209.3 943.09H234.5M209.3 946.25H234.5M209.3 949.41H234.5M209.3 952.57H234.5M209.3 955.73H234.5M209.3 958.89H234.5M209.3 962.05H234.5M209.3 965.21H234.5M209.3 968.37H234.5M209.3 971.53H234.5M209.3 974.69H234.5M209.3 977.85H234.5M209.3 981.01H234.5M209.3 984.17H234.5M209.3 987.33H234.5M209.3 990.49H234.5M209.3 993.65H234.5M209.3 996.81H234.5M209.3 999.97H234.5" stroke="#000" stroke-width="1.58" fill="none"/>
<rect x="209.4" y="870.1" width="25" height="134" fill="none" stroke="#000" stroke-width="2.2" stroke-linejoin="round"/>
<path d="M260.5 916.6V911.6M252.89 911.6H268.11" stroke="#000" stroke-width="2" fill="none"/>
<rect x="247.4" y="916.6" width="26.2" height="87.5" fill="#fff"/>
<path d="M252.94 916.6V1004.1M257.98 916.6V1004.1M263.02 916.6V1004.1M268.06 916.6V1004.1" stroke="#000" stroke-width="1.4" fill="none"/>
<rect x="247.5" y="916.7" width="26" height="87.4" fill="none" stroke="#000" stroke-width="2.2" stroke-linejoin="round"/>
<path d="M48.5 849.95V1004.1H280" stroke="#000" stroke-width="1.7" fill="none"/>
<text transform="translate(42.6 1009.35) scale(1 1)" font-size="11.3" font-weight="bold" text-anchor="end">0</text>
<text transform="translate(42.6 978.65) scale(1 1)" font-size="11.3" font-weight="bold" text-anchor="end">10</text>
<text transform="translate(42.6 947.95) scale(1 1)" font-size="11.3" font-weight="bold" text-anchor="end">20</text>
<text transform="translate(42.6 917.25) scale(1 1)" font-size="11.3" font-weight="bold" text-anchor="end">30</text>
<text transform="translate(42.6 886.55) scale(1 1)" font-size="11.3" font-weight="bold" text-anchor="end">40</text>
<text transform="translate(42.6 855.85) scale(1 1)" font-size="11.3" font-weight="bold" text-anchor="end">50</text>
<path d="M48.5 1004.1H44.1M48.5 997.96H45.2M48.5 991.82H45.2M48.5 985.68H45.2M48.5 979.54H45.2M48.5 973.4H44.1M48.5 967.26H45.2M48.5 961.12H45.2M48.5 954.98H45.2M48.5 948.84H45.2M48.5 942.7H44.1M48.5 936.56H45.2M48.5 930.42H45.2M48.5 924.28H45.2M48.5 918.14H45.2M48.5 912H44.1M48.5 905.86H45.2M48.5 899.72H45.2M48.5 893.58H45.2M48.5 887.44H45.2M48.5 881.3H44.1M48.5 875.16H45.2M48.5 869.02H45.2M48.5 862.88H45.2M48.5 856.74H45.2M48.5 850.6H44.1" stroke="#000" stroke-width="1.3" fill="none"/>
<text class="s" transform="translate(182.8 920.1) scale(1.12 1)" font-size="15.68" text-anchor="middle">£</text>
<path fill-rule="evenodd" d="M218.24 811.23a3.36 2.97 0 1 0 6.72 0a3.36 2.97 0 1 0 -6.72 0zM220.54 811.23a1.06 1.51 0 1 0 2.13 0a1.06 1.51 0 1 0 -2.13 0z"/>
<text class="s" transform="translate(221.6 831.3) scale(1.12 1)" font-size="15.68" text-anchor="middle">£</text>
<text class="i" x="221.6" y="849.1" font-size="14.56" text-anchor="middle" style="stroke-width:0.45px">@</text>
<path fill-rule="evenodd" d="M257.44 878.63a3.36 2.97 0 1 0 6.72 0a3.36 2.97 0 1 0 -6.72 0zM259.74 878.63a1.06 1.51 0 1 0 2.13 0a1.06 1.51 0 1 0 -2.13 0z"/>
<text class="i" x="260.8" y="899" font-size="14.56" text-anchor="middle" style="stroke-width:0.45px">@</text>
</g>
<g id="panelE">
<text class="b" x="408.7" y="15.6" font-size="18">E</text>
<text class="b" x="586.2" y="23" font-size="16.5" text-anchor="middle" textLength="40.4" lengthAdjust="spacingAndGlyphs">OV-6</text>
<text transform="translate(426.6 111.5) rotate(-90)" font-size="12.2" font-weight="bold" text-anchor="middle" textLength="158" lengthAdjust="spacingAndGlyphs" style="stroke-width:0.2px">% of positively stained cells</text>
<path d="M547.5 99V96.6M540.21 96.6H554.79" stroke="#000" stroke-width="2" fill="none"/>
<rect x="535" y="99" width="25" height="83.9" fill="url(#Ep1)"/>
<rect x="535.35" y="99.35" width="24.3" height="83.55" fill="none" stroke="#000" stroke-width="2.7" stroke-linejoin="round"/>
<path d="M584.2 148.6V144M576.75 144H591.65" stroke="#000" stroke-width="2" fill="none"/>
<rect x="571.75" y="148.95" width="24.9" height="33.95" fill="url(#Ep2)" stroke="#000" stroke-width="2.7" stroke-linejoin="round"/>
<path d="M621.3 82V75.6M613.9 75.6H628.7" stroke="#000" stroke-width="2" fill="none"/>
<rect x="608.6" y="82" width="25.4" height="100.9" fill="#f6f6f6"/>
<path d="M608.6 86.01H634M608.6 88.76H634M608.6 91.51H634M608.6 94.26H634M608.6 97.01H634M608.6 99.76H634M608.6 102.51H634M608.6 105.26H634M608.6 108.01H634M608.6 110.76H634M608.6 113.51H634M608.6 116.26H634M608.6 119.01H634M608.6 121.76H634M608.6 124.51H634M608.6 127.26H634M608.6 130.01H634M608.6 132.76H634M608.6 135.51H634M608.6 138.26H634M608.6 141.01H634M608.6 143.76H634M608.6 146.51H634M608.6 149.26H634M608.6 152.01H634M608.6 154.76H634M608.6 157.51H634M608.6 160.26H634M608.6 163.01H634M608.6 165.76H634M608.6 168.51H634M608.6 171.26H634M608.6 174.01H634M608.6 176.76H634M608.6 179.51H634" stroke="#333" stroke-width="0.88" fill="none"/>
<rect x="608.95" y="82.35" width="24.7" height="100.55" fill="none" stroke="#000" stroke-width="2.7" stroke-linejoin="round"/>
<path d="M658 121.6V116M650.66 116H665.34" stroke="#000" stroke-width="2" fill="none"/>
<rect x="645.4" y="121.6" width="25.2" height="61.3" fill="#f6f6f6"/>
<path d="M649.71 121.6V182.9M653.03 121.6V182.9M656.34 121.6V182.9M659.66 121.6V182.9M662.97 121.6V182.9M666.29 121.6V182.9" stroke="#999" stroke-width="1.4" fill="none"/>
<rect x="645.75" y="121.95" width="24.5" height="60.95" fill="none" stroke="#000" stroke-width="2.7" stroke-linejoin="round"/>
<path d="M455.2 42.95V182.9H677" stroke="#000" stroke-width="1.7" fill="none"/>
<text transform="translate(449.2 186.26) scale(1.13 1)" font-size="9.1" font-weight="bold" text-anchor="end">0</text>
<text transform="translate(449.2 151.43) scale(1.13 1)" font-size="9.1" font-weight="bold" text-anchor="end">20</text>
<text transform="translate(449.2 116.61) scale(1.13 1)" font-size="9.1" font-weight="bold" text-anchor="end">40</text>
<text transform="translate(449.2 81.78) scale(1.13 1)" font-size="9.1" font-weight="bold" text-anchor="end">60</text>
<text transform="translate(449.2 46.96) scale(1.13 1)" font-size="9.1" font-weight="bold" text-anchor="end">80</text>
<path d="M455.2 182.9H451M455.2 175.94H453.2M455.2 168.97H453.2M455.2 162H453.2M455.2 155.04H453.2M455.2 148.07H451M455.2 141.11H453.2M455.2 134.14H453.2M455.2 127.18H453.2M455.2 120.22H453.2M455.2 113.25H451M455.2 106.28H453.2M455.2 99.32H453.2M455.2 92.35H453.2M455.2 85.39H453.2M455.2 78.42H451M455.2 71.46H453.2M455.2 64.49H453.2M455.2 57.53H453.2M455.2 50.56H453.2M455.2 43.6H451" stroke="#000" stroke-width="1.3" fill="none"/>
<text class="s" transform="translate(584 130.4) scale(1.12 1)" font-size="13.16" text-anchor="middle">£</text>
<path fill-rule="evenodd" d="M618.26 30.74a3.24 2.86 0 1 0 6.48 0a3.24 2.86 0 1 0 -6.48 0zM620.47 30.74a1.03 1.46 0 1 0 2.05 0a1.03 1.46 0 1 0 -2.05 0z"/>
<text class="s" transform="translate(621.5 49) scale(1.12 1)" font-size="13.16" text-anchor="middle">£</text>
<text class="i" x="621.5" y="64.5" font-size="12.22" text-anchor="middle" style="stroke-width:0.45px">@</text>
<path fill-rule="evenodd" d="M655.06 68.14a3.24 2.86 0 1 0 6.48 0a3.24 2.86 0 1 0 -6.48 0zM657.27 68.14a1.03 1.46 0 1 0 2.05 0a1.03 1.46 0 1 0 -2.05 0z"/>
<text class="s" transform="translate(658.3 87) scale(1.12 1)" font-size="13.16" text-anchor="middle">£</text>
<text class="i" x="658.3" y="102" font-size="12.22" text-anchor="middle" style="stroke-width:0.45px">@</text>
</g>
<g id="panelF">
<text class="b" x="409.7" y="276.4" font-size="18">F</text>
<text class="b" x="570.4" y="281.3" font-size="16.7" text-anchor="middle" textLength="55.5" lengthAdjust="spacingAndGlyphs">α-SMA</text>
<text transform="translate(423 382.5) rotate(-90)" font-size="12.3" font-weight="normal" text-anchor="middle" textLength="156" lengthAdjust="spacingAndGlyphs" style="stroke-width:0.35px">% of positively stained cells</text>
<path d="M543.8 358.4V352.6M536.35 352.6H551.25" stroke="#000" stroke-width="2" fill="none"/>
<rect x="531" y="358.4" width="25.6" height="96.65" fill="url(#Fp1)"/>
<path d="M532.2 365.8q1.16 -1.3 2.32 0q1.16 1.3 2.32 0q1.16 -1.3 2.32 0q1.16 1.3 2.32 0q1.16 -1.3 2.32 0q1.16 1.3 2.32 0q1.16 -1.3 2.32 0q1.16 1.3 2.32 0q1.16 -1.3 2.32 0q1.16 1.3 2.32 0M532.2 374.6q1.16 -1.3 2.32 0q1.16 1.3 2.32 0q1.16 -1.3 2.32 0q1.16 1.3 2.32 0q1.16 -1.3 2.32 0q1.16 1.3 2.32 0q1.16 -1.3 2.32 0q1.16 1.3 2.32 0q1.16 -1.3 2.32 0q1.16 1.3 2.32 0" stroke="#fff" stroke-width="1.25" fill="none"/>
<path d="M533.9 381.7h1.4v1.4h-1.4zM540.03 381.7h1.4v1.4h-1.4zM546.17 381.7h1.4v1.4h-1.4zM552.3 381.7h1.4v1.4h-1.4zM533.9 390.4h1.4v1.4h-1.4zM540.03 390.4h1.4v1.4h-1.4zM546.17 390.4h1.4v1.4h-1.4zM552.3 390.4h1.4v1.4h-1.4zM533.9 398.6h1.4v1.4h-1.4zM540.03 398.6h1.4v1.4h-1.4zM546.17 398.6h1.4v1.4h-1.4zM552.3 398.6h1.4v1.4h-1.4zM533.9 407.3h1.4v1.4h-1.4zM540.03 407.3h1.4v1.4h-1.4zM546.17 407.3h1.4v1.4h-1.4zM552.3 407.3h1.4v1.4h-1.4zM533.9 416.1h1.4v1.4h-1.4zM540.03 416.1h1.4v1.4h-1.4zM546.17 416.1h1.4v1.4h-1.4zM552.3 416.1h1.4v1.4h-1.4zM533.9 424.9h1.4v1.4h-1.4zM540.03 424.9h1.4v1.4h-1.4zM546.17 424.9h1.4v1.4h-1.4zM552.3 424.9h1.4v1.4h-1.4zM533.9 433.6h1.4v1.4h-1.4zM540.03 433.6h1.4v1.4h-1.4zM546.17 433.6h1.4v1.4h-1.4zM552.3 433.6h1.4v1.4h-1.4zM533.9 441.8h1.4v1.4h-1.4zM540.03 441.8h1.4v1.4h-1.4zM546.17 441.8h1.4v1.4h-1.4zM552.3 441.8h1.4v1.4h-1.4zM533.9 450.6h1.4v1.4h-1.4zM540.03 450.6h1.4v1.4h-1.4zM546.17 450.6h1.4v1.4h-1.4zM552.3 450.6h1.4v1.4h-1.4z" fill="#e8e8e8"/>
<rect x="531" y="358.4" width="25.6" height="96.65" fill="none" stroke="#000" stroke-width="2" stroke-linejoin="round"/>
<path d="M581.6 334.6V330.6M574.04 330.6H589.16" stroke="#000" stroke-width="2" fill="none"/>
<rect x="568.6" y="334.6" width="26" height="120.45" fill="url(#Fp2)" stroke="#000" stroke-width="2" stroke-linejoin="round"/>
<path d="M619 402V398M611.76 398H626.24" stroke="#000" stroke-width="2" fill="none"/>
<rect x="606.6" y="402" width="24.8" height="53.05" fill="#fff"/>
<path d="M606.6 405.26H631.4M606.6 408.31H631.4M606.6 411.36H631.4M606.6 414.41H631.4M606.6 417.46H631.4M606.6 420.51H631.4M606.6 423.56H631.4M606.6 426.61H631.4M606.6 429.66H631.4M606.6 432.71H631.4M606.6 435.76H631.4M606.6 438.81H631.4M606.6 441.86H631.4M606.6 444.91H631.4M606.6 447.96H631.4M606.6 451.01H631.4" stroke="#000" stroke-width="1.59" fill="none"/>
<rect x="606.6" y="402" width="24.8" height="53.05" fill="none" stroke="#000" stroke-width="2" stroke-linejoin="round"/>
<path d="M656.9 378V371M649.61 371H664.19" stroke="#000" stroke-width="2" fill="none"/>
<rect x="644.4" y="378" width="25" height="77.05" fill="#fff"/>
<path d="M649.62 378V455.05M654.48 378V455.05M659.32 378V455.05M664.17 378V455.05" stroke="#000" stroke-width="1.25" fill="none"/>
<rect x="644.4" y="378" width="25" height="77.05" fill="none" stroke="#000" stroke-width="2" stroke-linejoin="round"/>
<path d="M449.1 311.35V455.05H676" stroke="#000" stroke-width="1.7" fill="none"/>
<text transform="translate(443.6 459.35) scale(1 1)" font-size="10.9" font-weight="bold" text-anchor="end">0</text>
<text transform="translate(443.6 423.59) scale(1 1)" font-size="10.9" font-weight="bold" text-anchor="end">10</text>
<text transform="translate(443.6 387.83) scale(1 1)" font-size="10.9" font-weight="bold" text-anchor="end">20</text>
<text transform="translate(443.6 352.06) scale(1 1)" font-size="10.9" font-weight="bold" text-anchor="end">30</text>
<text transform="translate(443.6 316.3) scale(1 1)" font-size="10.9" font-weight="bold" text-anchor="end">40</text>
<path d="M449.1 455.05H445.1M449.1 447.9H447.3M449.1 440.75H447.3M449.1 433.59H447.3M449.1 426.44H447.3M449.1 419.29H445.1M449.1 412.13H447.3M449.1 404.98H447.3M449.1 397.83H447.3M449.1 390.68H447.3M449.1 383.52H445.1M449.1 376.37H447.3M449.1 369.22H447.3M449.1 362.07H447.3M449.1 354.91H447.3M449.1 347.76H445.1M449.1 340.61H447.3M449.1 333.46H447.3M449.1 326.31H447.3M449.1 319.15H447.3M449.1 312H445.1" stroke="#000" stroke-width="1.3" fill="none"/>
<text class="s" transform="translate(581 318.4) scale(1.12 1)" font-size="14" text-anchor="middle">£</text>
<path fill-rule="evenodd" d="M616 349.75a3 2.65 0 1 0 6 0a3 2.65 0 1 0 -6 0zM618.05 349.75a0.95 1.35 0 1 0 1.9 0a0.95 1.35 0 1 0 -1.9 0z"/>
<text class="s" transform="translate(619 368) scale(1.12 1)" font-size="14" text-anchor="middle">£</text>
<text class="i" x="619" y="383" font-size="13" text-anchor="middle" style="stroke-width:0.45px">@</text>
<path fill-rule="evenodd" d="M652.7 322.95a3 2.65 0 1 0 6 0a3 2.65 0 1 0 -6 0zM654.75 322.95a0.95 1.35 0 1 0 1.9 0a0.95 1.35 0 1 0 -1.9 0z"/>
<text class="s" transform="translate(655.7 341.4) scale(1.12 1)" font-size="14" text-anchor="middle">£</text>
<text class="i" x="655.7" y="357.5" font-size="13" text-anchor="middle" style="stroke-width:0.45px">@</text>
</g>
<g id="panelG">
<text class="b" x="402.7" y="538.8" font-size="18">G</text>
<text class="b" x="570.5" y="541" font-size="17.2" text-anchor="middle" textLength="73.8" lengthAdjust="spacingAndGlyphs">Vimentin</text>
<text transform="translate(413.1 644.5) rotate(-90)" font-size="12.1" font-weight="bold" text-anchor="middle" textLength="162" lengthAdjust="spacingAndGlyphs" style="stroke-width:0.2px">% of positively stained cells</text>
<path d="M543 638V629M535.44 629H550.56" stroke="#000" stroke-width="2" fill="none"/>
<rect x="530" y="638" width="26" height="82.7" fill="url(#Gp1)"/>
<path d="M531.2 642q1.18 -1.3 2.36 0q1.18 1.3 2.36 0q1.18 -1.3 2.36 0q1.18 1.3 2.36 0q1.18 -1.3 2.36 0q1.18 1.3 2.36 0q1.18 -1.3 2.36 0q1.18 1.3 2.36 0q1.18 -1.3 2.36 0q1.18 1.3 2.36 0M531.2 656q1.18 -1.3 2.36 0q1.18 1.3 2.36 0q1.18 -1.3 2.36 0q1.18 1.3 2.36 0q1.18 -1.3 2.36 0q1.18 1.3 2.36 0q1.18 -1.3 2.36 0q1.18 1.3 2.36 0q1.18 -1.3 2.36 0q1.18 1.3 2.36 0M531.2 670q1.18 -1.3 2.36 0q1.18 1.3 2.36 0q1.18 -1.3 2.36 0q1.18 1.3 2.36 0q1.18 -1.3 2.36 0q1.18 1.3 2.36 0q1.18 -1.3 2.36 0q1.18 1.3 2.36 0q1.18 -1.3 2.36 0q1.18 1.3 2.36 0M531.2 683.4q1.18 -1.3 2.36 0q1.18 1.3 2.36 0q1.18 -1.3 2.36 0q1.18 1.3 2.36 0q1.18 -1.3 2.36 0q1.18 1.3 2.36 0q1.18 -1.3 2.36 0q1.18 1.3 2.36 0q1.18 -1.3 2.36 0q1.18 1.3 2.36 0M531.2 703.4q1.18 -1.3 2.36 0q1.18 1.3 2.36 0q1.18 -1.3 2.36 0q1.18 1.3 2.36 0q1.18 -1.3 2.36 0q1.18 1.3 2.36 0q1.18 -1.3 2.36 0q1.18 1.3 2.36 0q1.18 -1.3 2.36 0q1.18 1.3 2.36 0M531.2 716.8q1.18 -1.3 2.36 0q1.18 1.3 2.36 0q1.18 -1.3 2.36 0q1.18 1.3 2.36 0q1.18 -1.3 2.36 0q1.18 1.3 2.36 0q1.18 -1.3 2.36 0q1.18 1.3 2.36 0q1.18 -1.3 2.36 0q1.18 1.3 2.36 0" stroke="#fff" stroke-width="1.25" fill="none"/>
<path d="M532.9 648.5h1.4v1.4h-1.4zM539.17 648.5h1.4v1.4h-1.4zM545.43 648.5h1.4v1.4h-1.4zM551.7 648.5h1.4v1.4h-1.4zM532.9 661.9h1.4v1.4h-1.4zM539.17 661.9h1.4v1.4h-1.4zM545.43 661.9h1.4v1.4h-1.4zM551.7 661.9h1.4v1.4h-1.4zM532.9 675.3h1.4v1.4h-1.4zM539.17 675.3h1.4v1.4h-1.4zM545.43 675.3h1.4v1.4h-1.4zM551.7 675.3h1.4v1.4h-1.4zM532.9 689.3h1.4v1.4h-1.4zM539.17 689.3h1.4v1.4h-1.4zM545.43 689.3h1.4v1.4h-1.4zM551.7 689.3h1.4v1.4h-1.4zM532.9 695.3h1.4v1.4h-1.4zM539.17 695.3h1.4v1.4h-1.4zM545.43 695.3h1.4v1.4h-1.4zM551.7 695.3h1.4v1.4h-1.4zM532.9 709.3h1.4v1.4h-1.4zM539.17 709.3h1.4v1.4h-1.4zM545.43 709.3h1.4v1.4h-1.4zM551.7 709.3h1.4v1.4h-1.4z" fill="#e8e8e8"/>
<rect x="530.1" y="638.1" width="25.8" height="82.6" fill="none" stroke="#000" stroke-width="2.2" stroke-linejoin="round"/>
<path d="M583.3 610.6V605.6M575.36 605.6H591.24" stroke="#000" stroke-width="2" fill="none"/>
<rect x="569.7" y="610.7" width="27.2" height="110" fill="url(#Gp2)" stroke="#000" stroke-width="2.2" stroke-linejoin="round"/>
<path d="M623 672.6V668.6M615.44 668.6H630.56" stroke="#000" stroke-width="2" fill="none"/>
<rect x="610" y="672.6" width="26" height="48.1" fill="#fff"/>
<path d="M610 676.2H636M610 679.36H636M610 682.52H636M610 685.68H636M610 688.84H636M610 692H636M610 695.16H636M610 698.32H636M610 701.48H636M610 704.64H636M610 707.8H636M610 710.96H636M610 714.12H636M610 717.28H636" stroke="#000" stroke-width="1.52" fill="none"/>
<rect x="610.1" y="672.7" width="25.8" height="48" fill="none" stroke="#000" stroke-width="2.2" stroke-linejoin="round"/>
<path d="M663.1 651V644.4M655.27 644.4H670.93" stroke="#000" stroke-width="2" fill="none"/>
<rect x="649.6" y="651" width="27" height="69.7" fill="#fff"/>
<path d="M654.43 651V720.7M658.77 651V720.7M663.1 651V720.7M667.43 651V720.7M671.77 651V720.7" stroke="#000" stroke-width="1.4" fill="none"/>
<rect x="649.7" y="651.1" width="26.8" height="69.6" fill="none" stroke="#000" stroke-width="2.2" stroke-linejoin="round"/>
<path d="M441.8 569.35V720.7H683.6" stroke="#000" stroke-width="1.7" fill="none"/>
<text transform="translate(435.1 724.8) scale(1 1)" font-size="10.9" font-weight="bold" text-anchor="end">0</text>
<text transform="translate(435.1 687.13) scale(1 1)" font-size="10.9" font-weight="bold" text-anchor="end">10</text>
<text transform="translate(435.1 649.45) scale(1 1)" font-size="10.9" font-weight="bold" text-anchor="end">20</text>
<text transform="translate(435.1 611.78) scale(1 1)" font-size="10.9" font-weight="bold" text-anchor="end">30</text>
<text transform="translate(435.1 574.1) scale(1 1)" font-size="10.9" font-weight="bold" text-anchor="end">40</text>
<path d="M441.8 720.7H437.5M441.8 713.17H439.8M441.8 705.63H439.8M441.8 698.1H439.8M441.8 690.56H439.8M441.8 683.03H437.5M441.8 675.49H439.8M441.8 667.96H439.8M441.8 660.42H439.8M441.8 652.88H439.8M441.8 645.35H437.5M441.8 637.82H439.8M441.8 630.28H439.8M441.8 622.75H439.8M441.8 615.21H439.8M441.8 607.67H437.5M441.8 600.14H439.8M441.8 592.61H439.8M441.8 585.07H439.8M441.8 577.53H439.8M441.8 570H437.5" stroke="#000" stroke-width="1.3" fill="none"/>
<text class="s" transform="translate(582.4 591) scale(1.12 1)" font-size="15.4" text-anchor="middle">£</text>
<path fill-rule="evenodd" d="M620.3 619.09a3.3 2.92 0 1 0 6.6 0a3.3 2.92 0 1 0 -6.6 0zM622.56 619.09a1.04 1.49 0 1 0 2.09 0a1.04 1.49 0 1 0 -2.09 0z"/>
<text class="s" transform="translate(623.6 638) scale(1.12 1)" font-size="15.4" text-anchor="middle">£</text>
<text class="i" x="623.6" y="655.5" font-size="14.3" text-anchor="middle" style="stroke-width:0.45px">@</text>
<path fill-rule="evenodd" d="M659.7 607.49a3.3 2.92 0 1 0 6.6 0a3.3 2.92 0 1 0 -6.6 0zM661.96 607.49a1.04 1.49 0 1 0 2.09 0a1.04 1.49 0 1 0 -2.09 0z"/>
<text class="i" x="663" y="627.5" font-size="14.3" text-anchor="middle" style="stroke-width:0.45px">@</text>
</g>
<g id="legend">
<rect x="236.3" y="57.2" width="13.8" height="7.3" rx="1.6" fill="none" stroke="#000" stroke-width="2.4"/>
<text class="b" x="257.9" y="64.85" font-size="11.2" textLength="78.8" lengthAdjust="spacingAndGlyphs">Infected control</text>
<rect x="236.3" y="73.1" width="13.8" height="7.3" rx="1.6" fill="none" stroke="#000" stroke-width="2.4"/>
<text class="b" x="257.9" y="80.75" font-size="11.2" textLength="20.6" lengthAdjust="spacingAndGlyphs">PZQ</text>
<rect x="237" y="89.1" width="12.4" height="5.9" fill="#666"/>
<path d="M238 92.45q1.04 -2.2 2.08 0q1.04 2.2 2.08 0q1.04 -2.2 2.08 0q1.04 2.2 2.08 0q1.04 -2.2 2.08 0" stroke="#eee" stroke-width="1" fill="none"/>
<rect x="236.3" y="88.4" width="13.8" height="7.3" rx="1.6" fill="none" stroke="#000" stroke-width="2.4"/>
<text class="b" x="257.9" y="96.05" font-size="11.2" textLength="72.6" lengthAdjust="spacingAndGlyphs">WJMSCs (8W)</text>
<path d="M239.3 106.8l2.6 2.6m0 -2.6l-2.6 2.6M244.1 106.8l2.6 2.6m0 -2.6l-2.6 2.6" stroke="#000" stroke-width="1.2" fill="none"/>
<path d="M237.5 109.95H248.9" stroke="#000" stroke-width="1"/>
<rect x="236.3" y="104.05" width="13.8" height="7.3" rx="1.6" fill="none" stroke="#000" stroke-width="2.4"/>
<text class="b" x="257.9" y="111.7" font-size="11.2" textLength="78.6" lengthAdjust="spacingAndGlyphs">WJMSCs (16W)</text>
<path d="M237.5 123.15H248.9" stroke="#555" stroke-width="1.3"/>
<path d="M237.5 124.9H248.9" stroke="#000" stroke-width="1"/>
<rect x="236.3" y="119" width="13.8" height="7.3" rx="1.6" fill="none" stroke="#000" stroke-width="2.4"/>
<text class="b" x="257.9" y="126.65" font-size="11.2" textLength="99.8" lengthAdjust="spacingAndGlyphs">PZQ+WJMSCs (8W)</text>
<path d="M240.4 135.6V140.5M243.2 135.6V140.5M246 135.6V140.5" stroke="#000" stroke-width="1.2"/>
<rect x="236.3" y="134.4" width="13.8" height="7.3" rx="1.6" fill="none" stroke="#000" stroke-width="2.4"/>
<text class="b" x="257.9" y="142.05" font-size="11.2" textLength="105.4" lengthAdjust="spacingAndGlyphs">PZQ+WJMSCs (16W)</text>
</g>
</g>
</svg>
</body></html>
